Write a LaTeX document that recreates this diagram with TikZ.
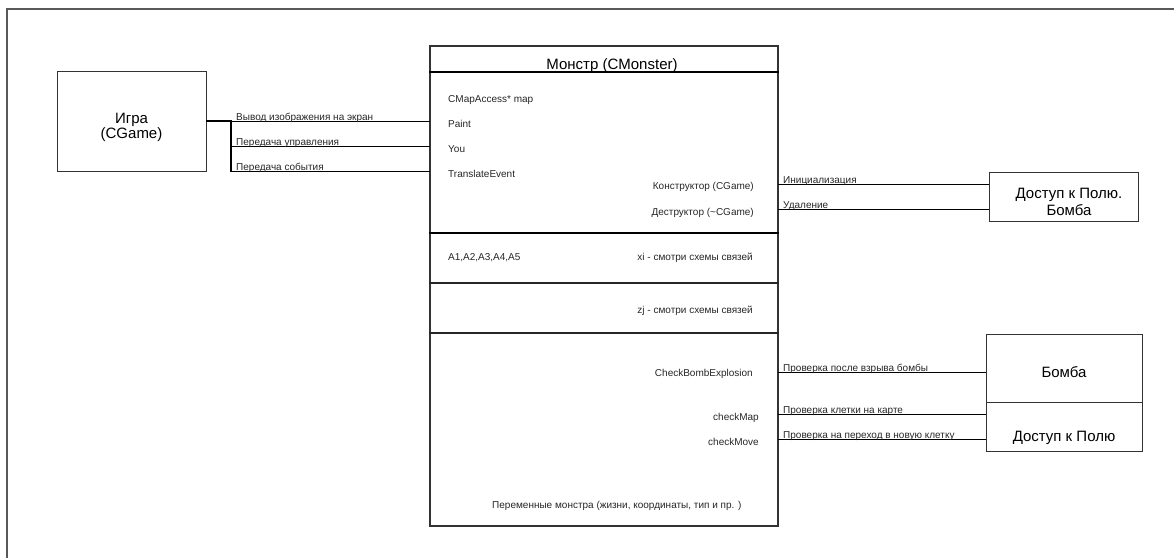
\documentclass[tikz,border=0pt]{standalone}
\usepackage{fontspec}
\setmainfont{Liberation Sans}
\begin{document}
\begin{tikzpicture}[x=1pt,y=-1pt,
  box/.style={draw=black!80, line width=0.9pt, inner sep=0pt},
  big/.style={font=\fontsize{15}{17}\selectfont, inner sep=0pt, anchor=base},
  lbl/.style={font=\fontsize{10}{12}\selectfont, inner sep=0pt, text=black!85},
  wire/.style={draw=black, line width=0.9pt},
  bus/.style={draw=black, line width=2.6pt, line join=miter},
  divider/.style={draw=black!85, line width=1.3pt}
]
\useasboundingbox (0,0) rectangle (1174,557);
% page frame (only its top and left edges are inside the sheet)
\begin{scope}
  \clip (0,0) rectangle (1174,557);
  \draw[black!65, line width=1.3pt] (7,9) rectangle (1200,600);
\end{scope}

% ---- game block ----
\node[box, minimum width=149pt, minimum height=100pt] (game) at (131.5,121) {};
\node[big] (gametxt1) at (131.5,123) {Игра};
\node[big] (gametxt2) at (131.5,138.5) {(CGame)};

% ---- monster class block ----
\node[box, line width=1.2pt, minimum width=348pt, minimum height=480pt] (mon) at (604,286) {};
\draw[black, line width=2pt] (mon.west |- 0,72) -- (mon.east |- 0,72);
\draw[black, line width=1.8pt] (mon.west |- 0,233) -- (mon.east |- 0,233);
\draw[divider] (mon.west |- 0,283) -- (mon.east |- 0,283);
\draw[divider] (mon.west |- 0,333) -- (mon.east |- 0,333);

\node[big] (montitle) at (612,69) {Монстр (CMonster)};

\node[lbl, anchor=base west] (fmap) at (448,102.5) {CMapAccess* map};
\node[lbl, anchor=base west] (fpaint) at (448,127) {Paint};
\node[lbl, anchor=base west] (fyou) at (448,152.5) {You};
\node[lbl, anchor=base west] (ftrans) at (448,177.5) {TranslateEvent};
\node[lbl, anchor=base east] (fctor) at (754,189.5) {Конструктор (CGame)};
\node[lbl, anchor=base east] (fdtor) at (754,215) {Деструктор (\textasciitilde CGame)};

\node[lbl, anchor=base west] (fstates) at (448,260.5) {A1,A2,A3,A4,A5};
\node[lbl, anchor=base east] (fxi) at (753,260.5) {xi - смотри схемы связей};
\node[lbl, anchor=base east] (fzj) at (753,313.5) {zj - смотри схемы связей};

\node[lbl, anchor=base east] (fbomb) at (753,376.5) {CheckBombExplosion};
\node[lbl, anchor=base east] (fcmap) at (759,420.5) {checkMap};
\node[lbl, anchor=base east] (fcmove) at (759,445) {checkMove};
\node[lbl, anchor=base west] (fvars) at (492,508) {Переменные монстра (жизни, координаты, тип и пр. )};

% ---- game -> monster links ----
\coordinate (j1) at (231,121);
\coordinate (j2) at (231,146);
\coordinate (j3) at (231,171.5);
\coordinate (m1) at (430,121);
\coordinate (m2) at (430,146);
\coordinate (m3) at (430,171);
\draw[bus] (game.east) -- (j1) -- (j3);
\draw[wire] (j1) -- (m1);
\draw[wire] (j2) -- (m2);
\draw[wire] (231,171) -- (m3);
\node[lbl, anchor=base west] (l1) at (236,120.5) {Вывод изображения на экран};
\node[lbl, anchor=base west] (l2) at (236,145.5) {Передача управления};
\node[lbl, anchor=base west] (l3) at (236,170.5) {Передача события};

% ---- field access / bomb (construction) ----
\node[box, minimum width=149pt, minimum height=49pt] (acc) at (1063.5,196.5) {};
\node[big] (acctxt1) at (1069,198) {Доступ к Полю.};
\node[big] (acctxt2) at (1069,215) {Бомба};
\coordinate (r1) at (778,184);
\coordinate (r2) at (778,209);
\draw[wire] (r1) -- (acc.west |- r1);
\draw[wire] (r2) -- (acc.west |- r2);
\node[lbl, anchor=base west] (l4) at (783,183.5) {Инициализация};
\node[lbl, anchor=base west] (l5) at (783,208.5) {Удаление};

% ---- bomb and field access ----
\node[box, minimum width=156pt, minimum height=68pt] (bomb) at (1064,368) {};
\node[big] (bombtxt) at (1064,377) {Бомба};
\node[box, minimum width=156pt, minimum height=49pt] (field) at (1064,426.5) {};
\node[big] (fieldtxt) at (1064,441) {Доступ к Полю};
\coordinate (r3) at (778,372);
\coordinate (r4) at (778,414);
\coordinate (r5) at (778,439);
\draw[wire] (r3) -- (bomb.west |- r3);
\draw[wire] (r4) -- (field.west |- r4);
\draw[wire] (r5) -- (field.west |- r5);
\node[lbl, anchor=base west] (l6) at (783,371.5) {Проверка после взрыва бомбы};
\node[lbl, anchor=base west] (l7) at (783,413.5) {Проверка клетки на карте};
\node[lbl, anchor=base west] (l8) at (783,438.5) {Проверка на переход в новую клетку};
\end{tikzpicture}
\end{document}
